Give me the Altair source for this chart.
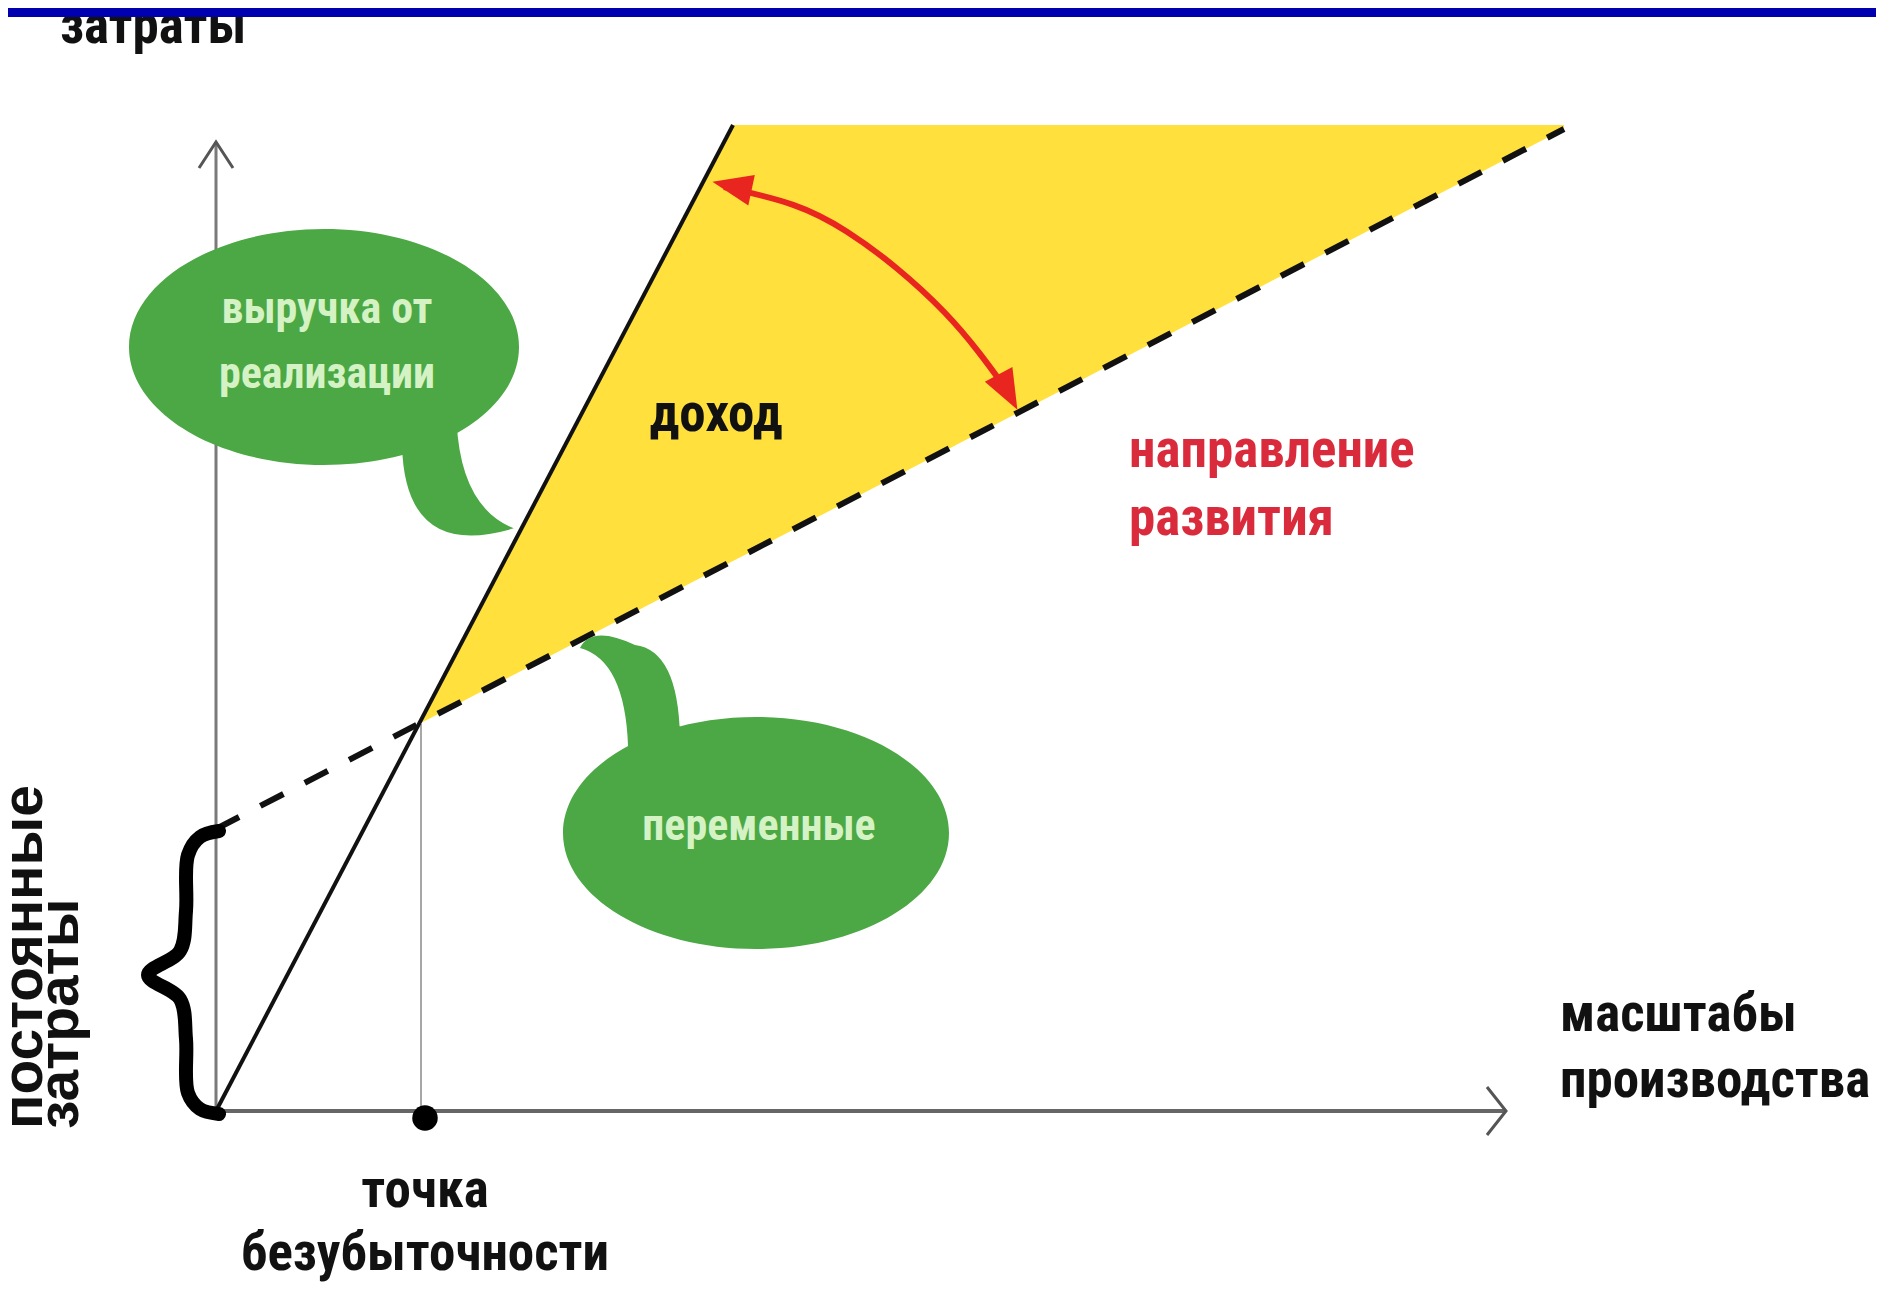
import altair as alt
import pandas as pd

# ---------------- data (units ~ pixels, origin at the axes crossing) -------------
revenue_x = [0, 517]
revenue_y = [0, 986]

cost_x = [0, 1348]
cost_y = [282, 982]

profit_x = [203, 517, 1348]
profit_top = [387, 986, 986]
profit_bottom = [387, 550, 982]

breakeven_x = [205, 205]
breakeven_y = [0, 387]
dot_x = [209]
dot_y = [-7]

yaxis_x = [0, 0]
yaxis_y = [0, 969]
xaxis_x = [0, 1290]
xaxis_y = [0, 0]
yarrow_x = [-17, 0, 17]
yarrow_y = [943, 969, 943]
xarrow_x = [1271, 1290, 1271]
xarrow_y = [24, 0, -24]

brace_x = [3, -16, -28, -30, -36, -68, -36, -30, -28, -16, 3]
brace_y = [280, 274, 256, 200, 160, 136, 112, 72, 18, 2, -3]

arc_x = [508, 581, 631, 681, 731, 764, 790]
arc_y = [924, 908, 881, 844, 798, 758, 722]
arrowhead_x = [516, 792]
arrowhead_y = [925, 719]
arrowhead_angle = [12, 242]

bubble_x = [108, 540]
bubble_y = [764, 278]

bubble_text = ["выручка от", "реализации", "переменные"]
bubble_text_x = [111, 111, 543]
bubble_text_y = [801, 736, 284]

black_text = ["доход", "масштабы", "производства", "точка", "безубыточности"]
black_text_x = [500, 1344, 1344, 209, 209]
black_text_y = [696, 96, 30, -80, -143]
black_text_align = ["center", "left", "left", "center", "center"]

red_text = ["направление", "развития"]
red_text_x = [913, 913]
red_text_y = [660, 592]

side_text = ["постоянные", "затраты"]
side_text_x = [-191, -155]
side_text_y = [-18, -18]

top_text = ["затраты"]
top_text_x = [-156]
top_text_y = [1068]

# ---------------- styling -------------
W, H = 1868, 1276
xs = alt.Scale(domain=[-208, 1660], nice=False, zero=False)
ys = alt.Scale(domain=[-173, 1103], nice=False, zero=False)
FONT = "Roboto Condensed, Liberation Sans Narrow, DejaVu Sans Condensed, Arial Narrow, sans-serif"
WIDE_FONT = "Liberation Sans, Arial, sans-serif"
GREEN = "#4ba844"
YELLOW = "#ffe03c"
RED = "#e8251f"


def X(f="x"):
    return alt.X(f"{f}:Q", scale=xs, axis=None)


def Y(f="y"):
    return alt.Y(f"{f}:Q", scale=ys, axis=None)


def polyline(xv, yv):
    return pd.DataFrame({"x": xv, "y": yv, "i": list(range(len(xv)))})


profit = alt.Chart(pd.DataFrame({"x": profit_x, "y": profit_top, "y2": profit_bottom})).mark_area(
    color=YELLOW, opacity=1
).encode(x=X(), y=Y(), y2="y2:Q")

be_line = alt.Chart(polyline(breakeven_x, breakeven_y)).mark_line(color="#8a8a8a", strokeWidth=1.5).encode(
    x=X(), y=Y(), order="i:Q"
)

yaxis = alt.Chart(polyline(yaxis_x, yaxis_y)).mark_line(color="#7a7a7a", strokeWidth=3).encode(
    x=X(), y=Y(), order="i:Q"
)
xaxis = alt.Chart(polyline(xaxis_x, xaxis_y)).mark_line(color="#666666", strokeWidth=4).encode(
    x=X(), y=Y(), order="i:Q"
)
yarrow = alt.Chart(polyline(yarrow_x, yarrow_y)).mark_line(color="#555555", strokeWidth=3).encode(
    x=X(), y=Y(), order="i:Q"
)
xarrow = alt.Chart(polyline(xarrow_x, xarrow_y)).mark_line(color="#555555", strokeWidth=3).encode(
    x=X(), y=Y(), order="i:Q"
)

revenue = alt.Chart(polyline(revenue_x, revenue_y)).mark_line(color="#111111", strokeWidth=4).encode(
    x=X(), y=Y(), order="i:Q"
)
cost = alt.Chart(polyline(cost_x, cost_y)).mark_line(
    color="#111111", strokeWidth=6, strokeDash=[26, 24]
).encode(x=X(), y=Y(), order="i:Q")

brace = alt.Chart(polyline(brace_x, brace_y)).mark_line(
    color="#000000", strokeWidth=14, interpolate="catmull-rom", strokeCap="round", strokeJoin="round"
).encode(x=X(), y=Y(), order="i:Q")

dot = alt.Chart(pd.DataFrame({"x": dot_x, "y": dot_y})).mark_point(
    shape="circle", filled=True, color="#000000", size=650, opacity=1
).encode(x=X(), y=Y())

arc = alt.Chart(polyline(arc_x, arc_y)).mark_line(
    color=RED, strokeWidth=6, interpolate="basis"
).encode(x=X(), y=Y(), order="i:Q")

ARROW_PATH = "M-1,0L1,-0.78L1,0.78Z"
heads = []
for hx, hy, ha in zip(arrowhead_x, arrowhead_y, arrowhead_angle):
    heads.append(
        alt.Chart(pd.DataFrame({"x": [hx], "y": [hy]})).mark_point(
            shape=ARROW_PATH, angle=ha, filled=True, color=RED, size=1600, opacity=1, strokeWidth=0
        ).encode(x=X(), y=Y())
    )

bubble1_path = (
    "M1,0C1,0.334 0.552,0.605 0,0.605C-0.552,0.605 -1,0.334 -1,0"
    "C-1,-0.334 -0.552,-0.605 0,-0.605C0.552,-0.605 1,-0.334 1,0Z"
    "M0.68,0.38Q0.70,0.821 0.973,0.93Q0.413,1.098 0.40,0.50Z"
)
bubble2_path = (
    "M1,0C1,0.332 0.552,0.601 0,0.601C-0.552,0.601 -1,0.332 -1,0"
    "C-1,-0.332 -0.552,-0.601 0,-0.601C0.552,-0.601 1,-0.332 1,0Z"
    "M-0.912,-0.959Q-0.85,-1.08 -0.627,-0.974Q-0.404,-0.946 -0.394,-0.50"
    "L-0.663,-0.45Q-0.679,-0.896 -0.912,-0.959Z"
)
bubble1 = alt.Chart(pd.DataFrame({"x": bubble_x[:1], "y": bubble_y[:1]})).mark_point(
    shape=bubble1_path, filled=True, color=GREEN, size=(2 * 195) ** 2, opacity=1, strokeWidth=0
).encode(x=X(), y=Y())
bubble2 = alt.Chart(pd.DataFrame({"x": bubble_x[1:], "y": bubble_y[1:]})).mark_point(
    shape=bubble2_path, filled=True, color=GREEN, size=(2 * 193) ** 2, opacity=1, strokeWidth=0
).encode(x=X(), y=Y())

btext = alt.Chart(pd.DataFrame({"x": bubble_text_x, "y": bubble_text_y, "t": bubble_text})).mark_text(
    font=FONT, fontSize=44, fontWeight="bold", color="#d4f2c4", align="center", baseline="middle"
).encode(x=X(), y=Y(), text="t:N")

ktext_df = pd.DataFrame({"x": black_text_x, "y": black_text_y, "t": black_text, "a": black_text_align})
ktext_c = alt.Chart(ktext_df[ktext_df.a == "center"]).mark_text(
    font=FONT, fontSize=53, fontWeight="bold", color="#111111", align="center", baseline="middle"
).encode(x=X(), y=Y(), text="t:N")
ktext_l = alt.Chart(ktext_df[ktext_df.a == "left"]).mark_text(
    font=FONT, fontSize=53, fontWeight="bold", color="#111111", align="left", baseline="middle"
).encode(x=X(), y=Y(), text="t:N")

rtext = alt.Chart(pd.DataFrame({"x": red_text_x, "y": red_text_y, "t": red_text})).mark_text(
    font=FONT, fontSize=53, fontWeight="bold", color="#d92b3c", align="left", baseline="middle"
).encode(x=X(), y=Y(), text="t:N")

stext = alt.Chart(pd.DataFrame({"x": side_text_x, "y": side_text_y, "t": side_text})).mark_text(
    font=WIDE_FONT, fontSize=57, fontWeight="bold", color="#111111", align="left", baseline="middle", angle=270
).encode(x=X(), y=Y(), text="t:N")

ttext = alt.Chart(pd.DataFrame({"x": top_text_x, "y": top_text_y, "t": top_text})).mark_text(
    font=FONT, fontSize=53, fontWeight="bold", color="#111111", align="left", baseline="alphabetic"
).encode(x=X(), y=Y(), text="t:N")

topbar = alt.Chart(pd.DataFrame({"x": [-216], "x2": [1670], "y": [1094], "y2": [1112]})).mark_rect(
    color="#0000b0"
).encode(x=X(), x2="x2:Q", y=Y(), y2="y2:Q")

chart = alt.layer(
    profit, be_line, yaxis, xaxis, yarrow, xarrow, revenue, cost, brace, dot, arc, *heads,
    bubble1, bubble2, btext, ktext_c, ktext_l, rtext, stext, ttext, topbar
).properties(
    width=W, height=H, padding=0, autosize=alt.AutoSizeParams(type="none")
).configure_view(stroke=None)

chart.save("out.html", embed_options={"renderer": "svg", "actions": False})
